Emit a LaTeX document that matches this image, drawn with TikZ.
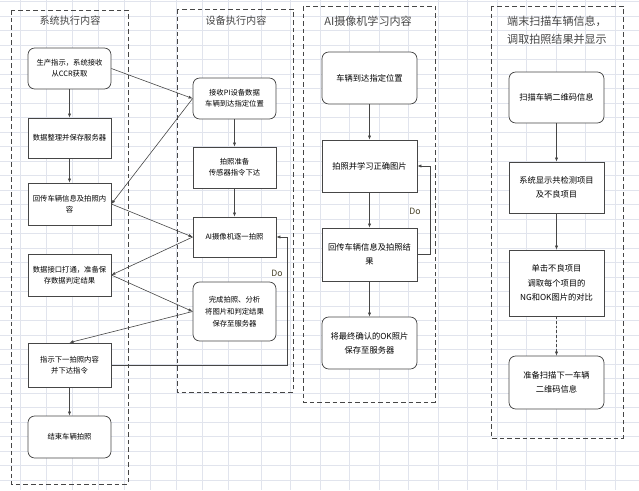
\documentclass[tikz,border=0pt]{standalone}
\usepackage{fontspec}
\setmainfont{Noto Sans CJK SC}
\usetikzlibrary{arrows.meta}
\definecolor{gridline}{RGB}{225,228,237}
\definecolor{inkgray}{RGB}{70,70,70}
\definecolor{dotext}{RGB}{70,64,40}
\def\px{0.75pt}
\def\colA{69.5}
\def\colB{234.5}
\def\colC{369.5}
\def\colD{556.5}

\begin{document}
\begin{tikzpicture}[x=\px, y=-\px,
    frame/.style={draw=inkgray, line width=0.6pt, dash pattern=on 3.5pt off 2.2pt},
    sz/.style 2 args={minimum width=#1*\px, minimum height=#2*\px},
    box/.style={draw=inkgray, fill=white, line width=0.55pt, align=center, inner sep=1pt,
                font=\fontsize{5.5}{8}\selectfont},
    rbox/.style={box, rounded corners=5pt},
    wide/.style={font=\fontsize{6.2}{10.7}\selectfont},
    title/.style={text=inkgray, align=center, font=\fontsize{7.6}{13.5}\selectfont},
    flow/.style={draw=inkgray, line width=0.45pt, -{Latex[length=3pt,width=2.4pt]}},
    dolabel/.style={text=dotext, font=\fontsize{6.5}{8}\selectfont}]
    \useasboundingbox (0,0) rectangle (639,490);
    % sheet grid
    \foreach \i in {0,...,8}{\draw[gridline, line width=0.5pt] ({20.7+26*\i},0) -- ({20.7+26*\i},490);}
    \foreach \i in {0,...,12}{\draw[gridline, line width=0.5pt] ({261+29.5*\i},0) -- ({261+29.5*\i},490);}
    \foreach \i in {0,...,33}{\draw[gridline, line width=0.5pt] (0,{1.5+14.5*\i}) -- (639,{1.5+14.5*\i});}

    % swimlanes
    \draw[frame] (11,10) rectangle (128,484);
    \draw[frame] (177,9) rectangle (293,392);
    \draw[frame] (303,6) rectangle (435,402);
    \draw[frame] (491,6) rectangle (623,438);
    \node[title] (tA) at (70,21) {系统执行内容};
    \node[title] (tB) at (236,21) {设备执行内容};
    \node[title, font=\fontsize{8.3}{13.5}\selectfont] (tC) at (368,21) {AI摄像机学习内容};
    \node[title, font=\fontsize{8.3}{13.5}\selectfont] (tD) at (557,30) {端末扫描车辆信息，\\调取拍照结果并显示};

    % system
    \node[rbox, sz={83}{41}] (B1) at (\colA,68.5) {生产指示，系统接收\\从CCR获取};
    \node[box, sz={83}{40}] (B2) at (\colA,138) {数据整理并保存服务器};
    \node[box, sz={83}{42}] (B3) at (\colA,204) {回传车辆信息及拍照内\\容};
    \node[box, sz={83}{42}] (B4) at (\colA,275) {数据接口打通，准备保\\存数据判定结果};
    \node[box, sz={83}{44}] (B5) at (\colA,365) {指示下一拍照内容\\并下达指令};
    \node[rbox, sz={83}{42}] (B6) at (\colA,437) {结束车辆拍照};

    % device
    \node[rbox, sz={83}{41}] (C1) at (\colB,98.5) {接收PI设备数据\\车辆到达指定位置};
    \node[box, sz={83}{41}] (C2) at (\colB,167.5) {拍照准备\\传感器指令下达};
    \node[box, sz={83}{40}] (C3) at (\colB,237) {AI摄像机逐一拍照};
    \node[rbox, sz={83}{59}, font=\fontsize{5.5}{9.2}\selectfont] (C4) at (\colB,311.5) {完成拍照、分析\\将图片和判定结果\\保存至服务器};

    % camera
    \node[rbox, wide, sz={95}{52}] (D1) at (\colC,78) {车辆到达指定位置};
    \node[box, wide, sz={95}{52}] (D2) at (\colC,166) {拍照并学习正确图片};
    \node[box, wide, sz={95}{53}] (D3) at (\colC,254.5) {回传车辆信息及拍照结\\果};
    \node[rbox, wide, sz={95}{52}] (D4) at (\colC,343) {将最终确认的OK照片\\保存至服务器};

    % terminal
    \node[rbox, wide, sz={95}{51}] (E1) at (\colD,97.5) {扫描车辆二维码信息};
    \node[box, wide, sz={95}{51}] (E2) at (\colD,187.5) {系统显示共检测项目\\及不良项目};
    \node[box, wide, sz={95}{66}] (E3) at (\colD,283) {单击不良项目\\调取每个项目的\\NG和OK图片的对比};
    \node[rbox, wide, sz={95}{53}] (E4) at (\colD,382.5) {准备扫描下一车辆\\二维码信息};

    % arrows
    \foreach \a/\b in {B1/B2, B2/B3, B5/B6, C1/C2, C2/C3, D1/D2, D2/D3, D3/D4, E1/E2, E2/E3}{
      \draw[flow] (\a) -- (\b);}
    \draw[flow, dash pattern=on 2pt off 1.5pt] (E3) -- (E4);
    \draw[flow] (B1.east) -- (C1.west);
    \draw[flow] (C1.west) -- (B3.east);
    \draw[flow] (B3.east) -- (C3.west);
    \draw[flow] (C3.west) -- (B4.east);
    \draw[flow] (B4.east) -- (C4.west);
    \draw[flow] (C4.west) -- (B5.north);

    % loops
    \coordinate (loopB) at (287,237);
    \coordinate (loopC) at (430,166);
    \draw[flow] (B5.east) -| (loopB) -- (C3.east);
    \draw[flow] (D3.east) -| (loopC) -- (D2.east);
    \node[dolabel] (doB) at (277,273) {Do};
    \node[dolabel] (doC) at (415,211) {Do};
\end{tikzpicture}
\end{document}
